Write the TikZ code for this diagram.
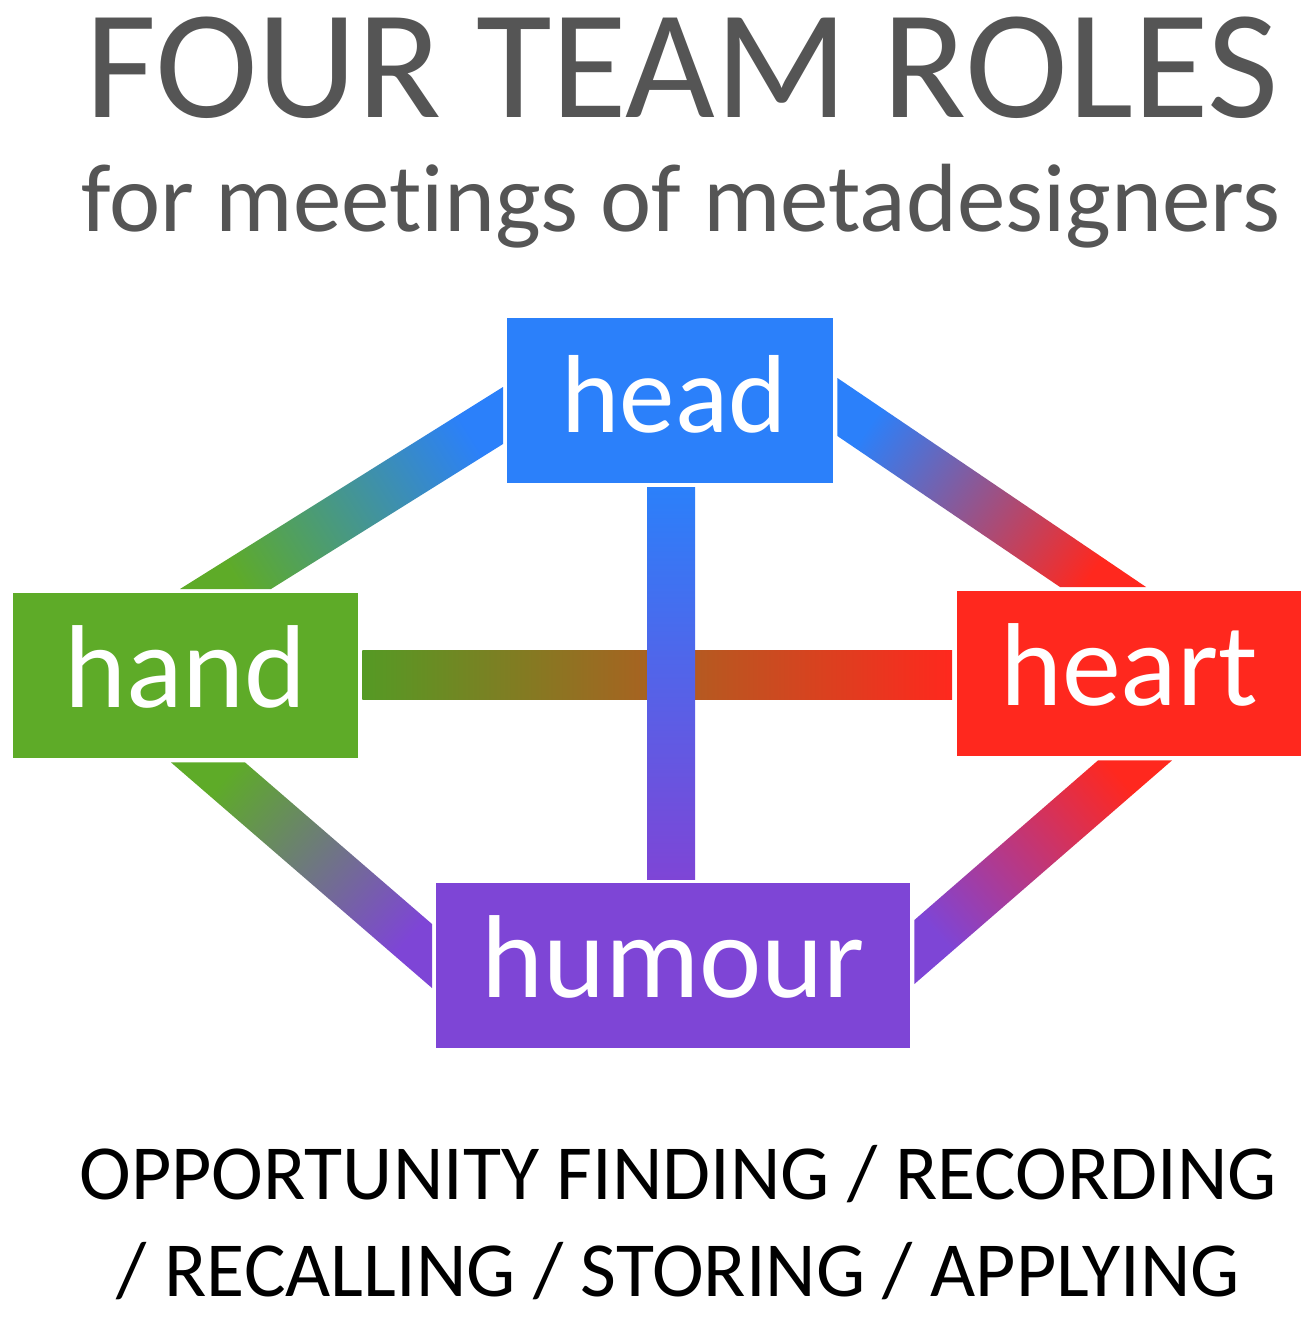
\documentclass[tikz,border=0pt]{standalone}
\usepackage{fontspec}
\setmainfont{Carlito}[Ligatures={NoCommon}]
\usetikzlibrary{calc}
\definecolor{headblue}{HTML}{2B80FA}
\definecolor{handgreen}{HTML}{5EAB28}
\definecolor{heartred}{HTML}{FF281E}
\definecolor{humourpurple}{HTML}{7E45D6}
\definecolor{titlegray}{HTML}{555555}
\begin{document}
\begin{tikzpicture}[x=1pt,y=-1pt,
  box/.style={inner sep=0pt, text=white, text height=64pt, text depth=0pt, anchor=north west, minimum height=165pt},
  bigfont/.style={font=\fontsize{118}{118}\selectfont},
  headfont/.style={font=\fontsize{111}{111}\selectfont}]
\useasboundingbox (0,0) rectangle (1314,1320);
\fill[white] (0,0) rectangle (1314,1320);

% titles
\node[anchor=base, text=titlegray, inner sep=0pt, font=\fontsize{155}{155}\selectfont] (title) at (682,117) {FOUR TEAM ROLES};
\node[anchor=base, text=titlegray, inner sep=0pt, font=\fontsize{97}{97}\selectfont] (subtitle) at (681,231) {for meetings of metadesigners};

% boxes
\node[box, headfont, fill=headblue, minimum width=326pt] (head) at (507,318) {\hspace*{8pt}head};
\node[box, bigfont, fill=handgreen, minimum width=345pt] (hand) at (13,593) {hand};
\node[box, bigfont, fill=heartred, minimum width=344pt] (heart) at (957,591) {heart};
\node[box, bigfont, fill=humourpurple, minimum width=474pt] (humour) at (436,883) {humour};

% connectors
\shade[top color=headblue, bottom color=handgreen, shading angle=-58]
  ($(head.north west)+(-4,69)$) -- ($(head.north west)+(-4,126)$) --
  ($(hand.north west)+(258,-4)$) -- ($(hand.north west)+(167,-4)$) -- cycle;
\shade[top color=headblue, bottom color=heartred, shading angle=56]
  ($(head.north east)+(4,60)$) -- ($(heart.north west)+(189,-4)$) --
  ($(heart.north west)+(103,-4)$) -- ($(head.north east)+(4,118)$) -- cycle;
\shade[top color=handgreen, bottom color=humourpurple, shading angle=49]
  ($(hand.south west)+(158,4)$) -- ($(hand.south west)+(232,4)$) --
  ($(humour.north west)+(-4,41)$) -- ($(humour.north west)+(-4,105)$) -- cycle;
\shade[top color=heartred, bottom color=humourpurple, shading angle=-49]
  ($(heart.south west)+(141,4)$) -- ($(heart.south west)+(215,4)$) --
  ($(humour.north east)+(4,101)$) -- ($(humour.north east)+(4,37)$) -- cycle;
\shade[left color=handgreen!90!black, right color=heartred]
  ($(hand.north east)+(4,57)$) rectangle ($(heart.north west)+(-5,108)$);
\shade[top color=headblue, bottom color=humourpurple]
  ($(head.south)+(-23,4)$) rectangle ($(humour.north)+(22,-4)$);

% bottom text
\node[anchor=base, inner sep=0pt, font=\fontsize{78}{78}\selectfont] (line1) at (678,1199) {OPPORTUNITY FINDING / RECORDING};
\node[anchor=base, inner sep=0pt, font=\fontsize{78}{78}\selectfont] (line2) at (678.5,1296) {/ RECALLING / STORING / APPLYING};
\end{tikzpicture}
\end{document}
